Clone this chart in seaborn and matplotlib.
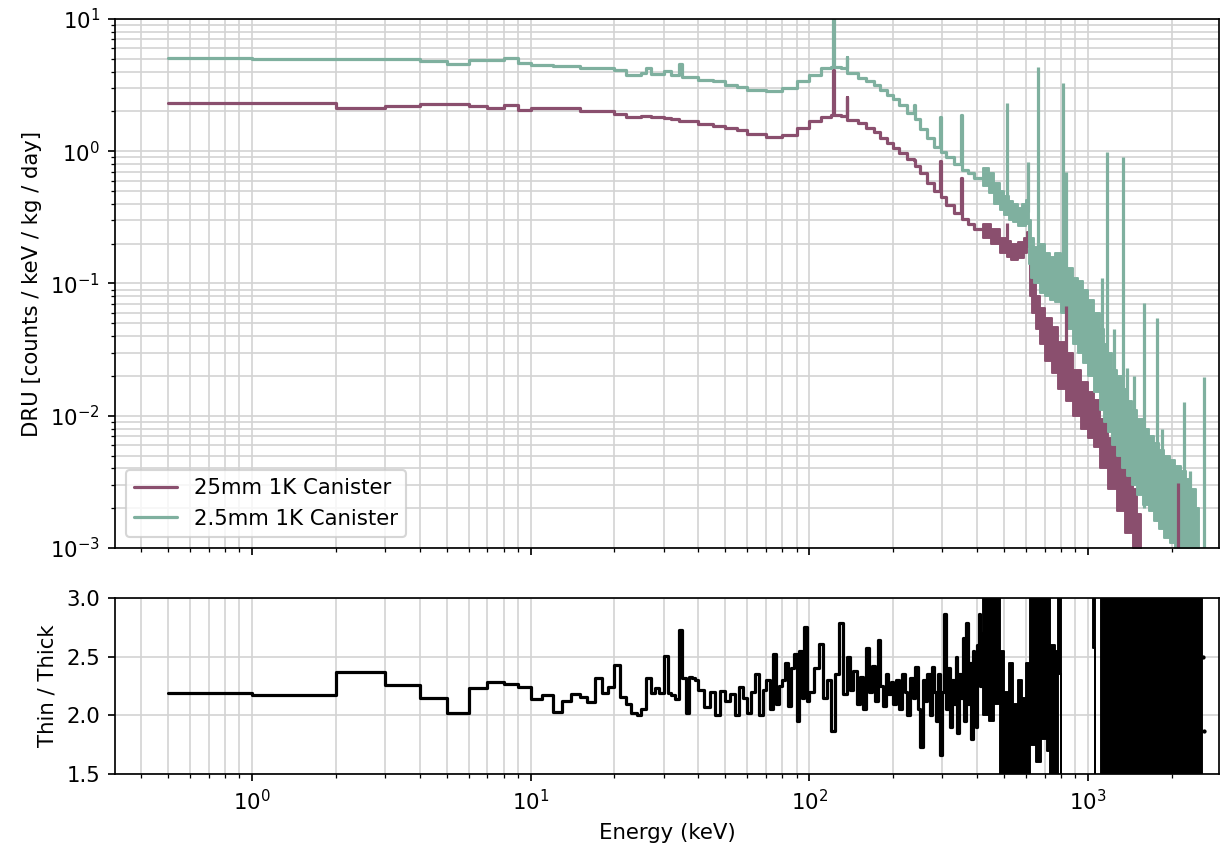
import numpy as np
import matplotlib
matplotlib.use("Agg")
import matplotlib.pyplot as plt
import seaborn as sns

# ---------------------------------------------------------------------------
# Spectra up to 420 keV: bin edges (keV) and rate per bin [counts/keV/kg/day]
# ---------------------------------------------------------------------------
top_edges = [0.5, 1, 2, 3, 4, 5, 6, 7, 8, 9, 10,
             12, 15, 20, 22, 25, 26, 27, 30, 32, 34, 35, 40,
             45, 50, 55, 60, 70, 80, 90, 100,
             110, 120, 122, 123, 130, 136, 137, 150, 160, 170, 180, 190, 200,
             210, 225, 238, 239, 250, 265, 280, 295, 296, 310, 330, 351, 352,
             370, 390, 420]

thin_rate = [5.05, 4.96, 4.96, 4.96, 4.84, 4.57, 4.87, 4.87, 5.10, 4.62,
             4.49, 4.44, 4.24, 4.12, 3.77, 3.90, 4.24, 3.83, 4.05, 3.77, 4.55, 3.66,
             3.46, 3.37, 3.17, 3.07, 2.90, 2.88, 3.03, 3.37,
             3.77, 4.24, 4.35, 11.0, 4.35, 4.24, 5.19, 3.88, 3.57, 3.40, 3.17, 2.90, 2.65,
             2.50, 2.25, 1.95, 2.24, 1.75, 1.48, 1.25, 1.08, 1.80, 0.98, 0.90, 0.80, 1.88,
             0.72, 0.68, 0.63]

thick_rate = [2.30, 2.30, 2.11, 2.20, 2.26, 2.26, 2.19, 2.14, 2.25, 2.06,
              2.11, 2.13, 2.02, 1.90, 1.82, 1.85, 1.84, 1.80, 1.77, 1.74, 1.70, 1.69,
              1.60, 1.55, 1.49, 1.45, 1.36, 1.29, 1.32, 1.49,
              1.69, 1.82, 1.88, 4.10, 1.88, 1.85, 2.59, 1.72, 1.63, 1.50, 1.41, 1.27, 1.15,
              1.05, 0.97, 0.88, 0.86, 0.78, 0.68, 0.58, 0.50, 0.84, 0.45, 0.39, 0.34, 0.63,
              0.31, 0.28, 0.26]

# Above 420 keV the spectra fluctuate strongly: low / high envelope per bin
thin_band_edges = [420, 440, 460, 485, 500, 520, 540, 560, 580, 600, 614, 625,
                   640, 670, 700, 730, 760, 800, 840, 880, 920, 960, 1000, 1050,
                   1100, 1140, 1180, 1220, 1270, 1320, 1380, 1440, 1500, 1570,
                   1650, 1730, 1800, 1880, 1960, 2050, 2150, 2250, 2350, 2430,
                   2500]
thin_band_lo = [0.55, 0.48, 0.40, 0.36, 0.33, 0.30, 0.29, 0.27, 0.27, 0.28,
                0.14, 0.11, 0.10, 0.085, 0.080, 0.075, 0.072, 0.060, 0.045,
                0.035, 0.030, 0.025, 0.020, 0.015, 0.011, 0.009, 0.0075, 0.006,
                0.005, 0.004, 0.0035, 0.003, 0.0025, 0.0021, 0.0019, 0.0016,
                0.0014, 0.0012, 0.0011, 0.0010, 0.0009, 0.0008, 0.0007, 0.0006]
thin_band_hi = [0.75, 0.68, 0.58, 0.50, 0.46, 0.42, 0.40, 0.37, 0.40, 0.43,
                0.30, 0.22, 0.19, 0.20, 0.17, 0.16, 0.17, 0.15, 0.13, 0.11,
                0.105, 0.09, 0.075, 0.060, 0.045, 0.035, 0.030, 0.022, 0.020,
                0.016, 0.013, 0.011, 0.0095, 0.008, 0.007, 0.0062, 0.0055,
                0.0050, 0.0046, 0.0042, 0.0038, 0.0033, 0.0028, 0.0020]

thick_band_edges = [420, 450, 485, 510, 530, 560, 590, 605, 617, 630, 650, 670,
                    700, 740, 780, 830, 880, 940, 1000, 1050, 1100, 1180, 1270,
                    1360, 1450, 1500, 1550]
thick_band_lo = [0.22, 0.20, 0.17, 0.16, 0.15, 0.155, 0.17, 0.19, 0.080, 0.060,
                 0.045, 0.035, 0.026, 0.021, 0.016, 0.013, 0.010, 0.008, 0.0068,
                 0.0058, 0.0040, 0.0028, 0.0019, 0.0013, 0.0010, 0.0008]
thick_band_hi = [0.28, 0.26, 0.22, 0.21, 0.20, 0.205, 0.22, 0.245, 0.17, 0.12,
                 0.080, 0.065, 0.055, 0.047, 0.036, 0.030, 0.022, 0.018, 0.0150,
                 0.0132, 0.0095, 0.0068, 0.0050, 0.0040, 0.0028, 0.0018]

# Gamma lines sitting on the high-energy continuum (keV, base, peak)
thin_line_e = [511, 609, 662, 811, 835, 1120, 1173, 1238, 1332, 1377, 1460,
               1588, 1764, 1847, 2204, 2330, 2614]
thin_line_base = [0.40, 0.35, 0.10, 0.08, 0.08, 0.02, 0.01, 0.008, 0.005,
                  0.004, 0.003, 0.002, 0.0016, 0.0015, 0.0009, 0.0008, 0.0005]
thin_line_peak = [2.3, 0.83, 4.3, 3.3, 0.70, 0.11, 0.99, 0.045, 0.91, 0.023,
                  0.020, 0.071, 0.055, 0.008, 0.0127, 0.0038, 0.0196]

thick_line_e = [511, 835, 2095]
thick_line_base = [0.18, 0.03, 0.0005]
thick_line_peak = [0.285, 0.067, 0.0031]

# ---------------------------------------------------------------------------
# Thin / Thick ratio
# ---------------------------------------------------------------------------
ratio_edges = ([0.5] + list(range(1, 41))          # 1 keV bins
               + list(range(42, 101, 2))            # 2 keV bins
               + list(range(104, 201, 4))           # 4 keV bins
               + list(range(205, 421, 5)))          # 5 keV bins

ratio_vals = [
    # 0.5 - 40 keV
    2.19, 2.17, 2.37, 2.26, 2.15, 2.02, 2.23, 2.28, 2.27, 2.24,
    2.14, 2.17, 2.03, 2.12, 2.18, 2.16, 2.11, 2.32, 2.19, 2.24,
    2.43, 2.16, 2.10, 2.02, 2.00, 2.05, 2.32, 2.19, 2.23, 2.19,
    2.51, 2.19, 2.17, 2.14, 2.73, 2.32, 2.02, 2.33, 2.32, 2.30,
    # 40 - 100 keV
    2.22, 2.07, 2.20, 2.00, 2.21, 2.12, 2.18, 2.00, 2.24, 2.15,
    2.02, 2.20, 2.35, 2.00, 2.22, 2.30, 2.05, 2.52, 2.10, 2.25,
    2.30, 2.45, 2.08, 2.40, 2.52, 1.95, 2.55, 2.15, 2.75, 2.12,
    # 100 - 200 keV
    2.20, 2.40, 2.61, 2.15, 2.30, 1.87, 2.35, 2.79, 2.18, 2.50,
    2.22, 2.38, 2.10, 2.33, 2.05, 2.57, 2.20, 2.42, 2.12, 2.64,
    2.25, 2.08, 2.35, 2.18, 2.28,
    # 200 - 420 keV
    2.10, 2.30, 2.05, 2.35, 2.20, 2.00, 2.32, 2.15, 2.41, 2.05,
    1.73, 2.30, 2.12, 2.35, 2.00, 2.41, 2.20, 1.95, 2.35, 1.66,
    2.20, 2.86, 2.05, 2.40, 1.90, 2.30, 2.10, 2.50, 1.85, 2.35,
    2.15, 2.66, 1.95, 2.79, 2.10, 2.45, 1.80, 2.55, 2.20, 1.90,
    2.60, 2.86, 2.25, 2.70,
]

# Ratio above 420 keV: envelope per bin (NaN where it leaves the window)
ratio_band_edges = [420, 440, 460, 485, 500, 520, 540, 560, 580, 600, 620, 650,
                    680, 710, 730, 760, 780, 800, 845, 1040, 1055, 1075, 1110,
                    2560]
ratio_band_lo = [2.0, 1.95, 2.1, 1.3, 1.3, 1.3, 1.3, 1.3, 1.3, 1.3, 1.75, 1.6,
                 1.8, 1.7, 1.3, 1.3, 2.35, 1.3, np.nan, 2.57, 1.3, np.nan, 1.3]
ratio_band_hi = [3.2, 3.2, 3.2, 2.55, 2.2, 2.45, 2.1, 2.3, 2.15, 2.45, 3.2, 3.2,
                 3.2, 3.2, 2.6, 2.55, 3.2, 3.2, np.nan, 3.2, 3.2, np.nan, 3.2]
ratio_tail_e = [2580, 2615]
ratio_tail_v = [2.5, 1.87]

THICK_COLOR = "#8a4f6e"
THIN_COLOR = "#7fb09f"

# ---------------------------------------------------------------------------
sns.set_style("ticks")
plt.rcParams.update({
    "font.family": ["DejaVu Sans"],
    "font.size": 10,
    "axes.labelsize": 10,
    "xtick.labelsize": 10,
    "ytick.labelsize": 10,
    "legend.fontsize": 10,
    "axes.linewidth": 0.8,
    "axes.edgecolor": "black",
    "xtick.color": "black",
    "ytick.color": "black",
    "text.color": "black",
    "axes.labelcolor": "black",
    "xtick.direction": "out",
    "ytick.direction": "out",
    "xtick.major.size": 3.5,
    "ytick.major.size": 3.5,
    "xtick.minor.size": 2.0,
    "ytick.minor.size": 2.0,
    "xtick.major.width": 0.8,
    "ytick.major.width": 0.8,
    "xtick.minor.width": 0.6,
    "ytick.minor.width": 0.6,
    "xtick.major.pad": 3.5,
    "ytick.major.pad": 3.5,
    "axes.labelpad": 4.0,
})

DPI = 153
fig = plt.figure(figsize=(1222 / DPI, 845 / DPI), dpi=DPI)
ax = fig.add_axes([0.0941, 0.3515, 0.9034, 0.626])
axr = fig.add_axes([0.0941, 0.0840, 0.9034, 0.2083], sharex=ax)


def closed(values):
    return list(values) + [values[-1]]


LW = 1.5
GRID = dict(color="#d4d4d4", lw=0.8)

# --- top panel -------------------------------------------------------------
sns.lineplot(x=top_edges, y=closed(thick_rate), drawstyle="steps-post",
             color=THICK_COLOR, lw=LW, sort=False, estimator=None,
             label="25mm 1K Canister", ax=ax)
ax.fill_between(thick_band_edges, closed(thick_band_lo), closed(thick_band_hi),
                step="post", color=THICK_COLOR, lw=LW * 0.6)
ax.vlines(thick_line_e, thick_line_base, thick_line_peak, color=THICK_COLOR, lw=LW)

sns.lineplot(x=top_edges, y=closed(thin_rate), drawstyle="steps-post",
             color=THIN_COLOR, lw=LW, sort=False, estimator=None,
             label="2.5mm 1K Canister", ax=ax)
ax.fill_between(thin_band_edges, closed(thin_band_lo), closed(thin_band_hi),
                step="post", color=THIN_COLOR, lw=LW * 0.6)
ax.vlines(thin_line_e, thin_line_base, thin_line_peak, color=THIN_COLOR, lw=LW)

ax.set_xscale("log")
ax.set_yscale("log")
ax.set_xlim(0.323, 2948)
ax.set_ylim(1e-3, 1e1)
ax.set_ylabel("DRU [counts / keV / kg / day]")
ax.set_xlabel("")
ax.tick_params(axis="x", which="both", labelbottom=False)
ax.grid(True, which="both", **GRID)
ax.set_axisbelow(True)
ax.legend(loc="lower left", frameon=True, fancybox=True, framealpha=0.8,
          edgecolor="#cccccc")

# --- ratio panel -----------------------------------------------------------
sns.lineplot(x=ratio_edges, y=closed(ratio_vals), drawstyle="steps-post",
             color="black", lw=LW, sort=False, estimator=None, ax=axr)
axr.fill_between(ratio_band_edges, closed(ratio_band_lo), closed(ratio_band_hi),
                 step="post", color="black", lw=LW * 0.6)
axr.plot(ratio_tail_e, ratio_tail_v, ".", color="black", ms=2)

axr.set_xscale("log")
axr.set_xlim(0.323, 2948)
axr.set_ylim(1.5, 3.0)
axr.set_yticks([1.5, 2.0, 2.5, 3.0])
axr.set_ylabel("Thin / Thick")
axr.set_xlabel("Energy (keV)")
axr.grid(True, which="both", **GRID)
axr.set_axisbelow(True)

for a in (ax, axr):
    for s in a.spines.values():
        s.set_visible(True)

fig.savefig("out.png", dpi=DPI)
